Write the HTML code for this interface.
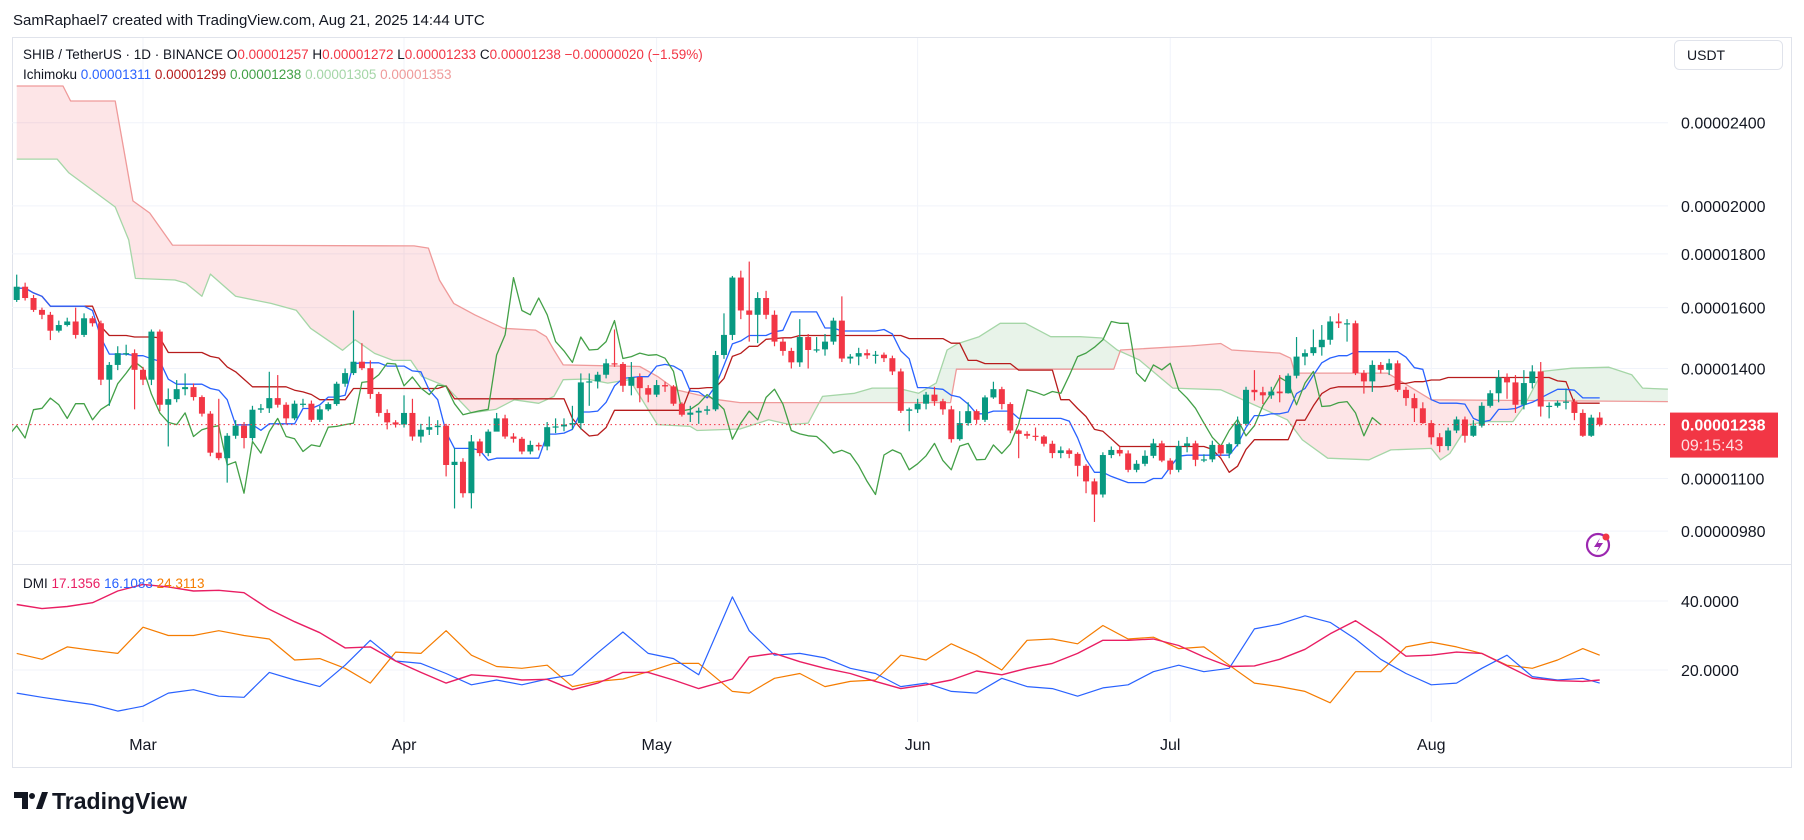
<!DOCTYPE html>
<html><head><meta charset="utf-8"><title>SHIB/USDT Ichimoku DMI</title>
<style>
html,body{margin:0;padding:0;background:#fff;}
svg{display:block;font-family:"Liberation Sans",sans-serif;}
</style></head>
<body>
<svg id="chart" xmlns="http://www.w3.org/2000/svg" width="1804" height="840" viewBox="0 0 1804 840">
<rect x="0" y="0" width="1804" height="840" fill="#ffffff"/>
<text x="13" y="25" font-size="15" fill="#131722">SamRaphael7 created with TradingView.com, Aug 21, 2025 14:44 UTC</text>
<rect x="12.5" y="37.5" width="1779" height="730" fill="none" stroke="#e0e3eb"/>
<line x1="12" y1="564.5" x2="1791" y2="564.5" stroke="#e0e3eb"/>
<g id="grid"></g>
<g id="cloud"></g>
<g id="lines"></g>
<g id="candles"></g>
<g id="dmi"></g>
<g id="axes"></g>
<text x="23" y="59" font-size="13.5" fill="#131722">SHIB / TetherUS · 1D · BINANCE  O<tspan fill="#f23645">0.00001257</tspan>  H<tspan fill="#f23645">0.00001272</tspan>  L<tspan fill="#f23645">0.00001233</tspan>  C<tspan fill="#f23645">0.00001238</tspan>  <tspan fill="#f23645">−0.00000020 (−1.59%)</tspan></text>
<text x="23" y="79" font-size="13.5" fill="#131722">Ichimoku  <tspan fill="#2962ff">0.00001311</tspan>  <tspan fill="#b71c1c">0.00001299</tspan>  <tspan fill="#43a047">0.00001238</tspan>  <tspan fill="#a5d6a7">0.00001305</tspan>  <tspan fill="#ef9a9a">0.00001353</tspan></text>
<text x="23" y="588" font-size="13.5" fill="#131722">DMI  <tspan fill="#e91e63">17.1356</tspan>  <tspan fill="#2962ff">16.1083</tspan>  <tspan fill="#f57c00">24.3113</tspan></text>
<rect x="1674.5" y="40.5" width="108" height="29" rx="5" fill="#fff" stroke="#e0e3eb"/>
<text x="1687" y="60" font-size="14" fill="#131722">USDT</text>
<g>
<circle cx="1598" cy="545" r="11" fill="none" stroke="#9c27b0" stroke-width="2.2"/>
<path d="M1600 538 L1594 547 L1599 547 L1596 553 L1603 543 L1598 543 Z" fill="#9c27b0"/>
<circle cx="1606" cy="537" r="3.5" fill="#f23645"/>
</g>
<g>
<path d="M14 792 h14 v17 h-6 v-11 h-8 z" fill="#131722"/>
<circle cx="32" cy="796" r="3" fill="#131722"/>
<path d="M36 809 l6 -17 h6 l-6 17 z" fill="#131722"/>
<text x="52" y="809" font-size="23" font-weight="bold" fill="#131722">TradingView</text>
</g>
</svg>
<script>
// ---- data (prices in units of 1e-8 USDT) ----
const firstOpen = 1627;
const closes = [1675,1634,1592,1575,1521,1540,1552,1507,1563,1546,
1366,1411,1448,1448,1396,1366,1518,1293,1309,1338,
1344,1315,1268,1164,1150,1208,1235,1202,1279,1283,
1312,1293,1255,1296,1296,1251,1280,1295,1354,1386,
1421,1401,1324,1270,1244,1238,1270,1206,1224,1231,
1235,1133,1141,1065,1193,1163,1219,1255,1206,1200,
1167,1184,1180,1231,1233,1238,1242,1358,1361,1381,
1416,1414,1348,1374,1341,1322,1350,1346,1296,1265,
1271,1276,1280,1442,1507,1709,1590,1575,1634,1575,
1485,1455,1419,1500,1458,1460,1485,1555,1431,1437,
1448,1441,1443,1432,1391,1276,1280,1296,1322,1303,
1280,1199,1242,1275,1251,1314,1338,1295,1222,1213,
1208,1206,1187,1163,1170,1161,1131,1093,1062,1158,
1171,1162,1121,1136,1156,1188,1144,1121,1181,1188,
1146,1147,1184,1162,1186,1240,1336,1329,1320,1331,
1326,1378,1437,1448,1467,1491,1552,1546,1546,1386,
1361,1411,1396,1416,1336,1312,1283,1242,1204,1181,
1222,1252,1208,1235,1290,1326,1373,1358,1293,1356,
1391,1288,1290,1299,1302,1270,1208,1257,1238];
const highs = [1720,1690,1645,1600,1585,1555,1565,1600,1580,1570,
1555,1420,1470,1475,1460,1405,1525,1525,1340,1365,
1385,1355,1320,1275,1310,1215,1250,1245,1290,1295,
1390,1380,1300,1305,1310,1305,1290,1300,1360,1400,
1590,1480,1425,1330,1280,1250,1320,1310,1240,1260,
1250,1240,1175,1150,1210,1200,1225,1270,1265,1215,
1205,1195,1190,1245,1255,1255,1290,1385,1385,1390,
1430,1525,1420,1420,1385,1350,1365,1360,1350,1300,
1290,1285,1290,1455,1580,1715,1735,1770,1655,1660,
1590,1500,1465,1560,1510,1500,1510,1565,1640,1445,
1465,1460,1455,1450,1440,1400,1285,1310,1330,1345,
1310,1290,1275,1300,1280,1320,1360,1345,1300,1225,
1220,1230,1210,1195,1180,1175,1165,1135,1100,1165,
1180,1180,1170,1145,1170,1200,1195,1150,1195,1205,
1195,1160,1195,1175,1190,1260,1345,1395,1345,1345,
1380,1385,1500,1460,1525,1540,1570,1580,1560,1555,
1395,1425,1420,1430,1425,1345,1325,1300,1250,1215,
1230,1260,1260,1250,1300,1335,1395,1385,1380,1395,
1410,1420,1300,1305,1340,1310,1280,1265,1272];
const lows = [1620,1625,1585,1560,1490,1515,1535,1495,1500,1535,
1350,1290,1395,1440,1280,1350,1350,1275,1180,1300,
1320,1305,1260,1155,1145,1090,1200,1175,1195,1270,
1270,1285,1240,1250,1285,1245,1245,1275,1290,1345,
1380,1395,1310,1260,1225,1230,1230,1195,1190,1210,
1210,1105,1030,1055,1030,1155,1155,1245,1200,1190,
1160,1160,1170,1170,1215,1220,1225,1225,1290,1340,
1370,1405,1330,1320,1300,1300,1315,1330,1290,1260,
1245,1240,1265,1275,1430,1490,1560,1485,1480,1560,
1470,1440,1400,1405,1400,1450,1440,1475,1420,1415,
1410,1430,1415,1420,1380,1270,1220,1270,1280,1290,
1265,1190,1195,1235,1240,1245,1310,1280,1215,1150,
1200,1195,1180,1150,1150,1150,1105,1065,1000,1055,
1150,1155,1115,1115,1130,1150,1140,1110,1115,1165,
1130,1140,1140,1155,1150,1180,1235,1305,1295,1310,
1300,1325,1370,1410,1440,1440,1475,1530,1485,1380,
1325,1330,1385,1380,1330,1290,1245,1240,1185,1165,
1170,1215,1190,1205,1230,1285,1300,1310,1270,1280,
1340,1260,1255,1285,1280,1250,1205,1205,1233];
// Ichimoku cloud edges (bar index, price)
const spanAIdx = [0,4.8,6.2,11.7,13.3,14.1,18.8,20.1,22,23,26,30.2,33.2,34.9,38.7,40.2,42.5,44.7,46.8,48.1,51,54,56.9,59.1,62,63.8,64.9,67.7,70.2,72.8,76.1,80,80.8,85.9,89.3,91.8,94,95.7,99.5,101.6,104.6,107.1,109.2,110.5,111.8,114.3,116.8,119.8,122.8,126.3,128.9,130.7,133.3,137.3,143,145.2,150.9,152.7,155.7,160.6,163.2,168,169.1,170.2,172.4,174.6,177.7,179,181.2,184.7,189.1,191.8,193.1,196.1];
const spanA = [2216,2216,2150,1995,1856,1706,1700,1688,1640,1722,1640,1615,1591,1529,1457,1491,1447,1425,1425,1376,1346,1270,1280,1307,1297,1317,1366,1368,1356,1366,1238,1233,1222,1226,1251,1238,1242,1317,1326,1341,1341,1326,1356,1458,1479,1501,1546,1546,1501,1501,1497,1458,1427,1341,1336,1312,1251,1197,1150,1146,1171,1175,1146,1162,1238,1246,1246,1288,1391,1401,1404,1381,1341,1338];
const spanBIdx = [0,5.5,6.4,11.7,13.8,15.8,18.5,47.2,48.9,50.2,51.9,54.4,57.8,61.6,62.9,63.8,64.9,74,76.1,78.3,83.4,85.9,110.9,111.6,130.3,131.1,139.5,143,144.3,150,151.3,151.8,162.8,168,196.1];
const spanB = [2601,2601,2517,2517,2022,1969,1835,1832,1823,1700,1615,1575,1529,1523,1501,1458,1411,1406,1376,1336,1307,1299,1299,1398,1398,1458,1471,1479,1458,1448,1432,1386,1386,1307,1302];
// DMI (sampled vertices)
const dmiIdx = [0,3,6,9,12,15,18,21,24,27,30,33,36,39,42,45,48,51,54,57,60,63,66,69,72,75,78,81,85,87,90,93,96,
99,102,105,108,111,114,117,120,123,126,129,132,135,138,141,144,147,150,153,156,159,162,165,168,171,174,177,180,183,186,188];
const adx = [39.0,37.8,38.4,39.5,42.9,44.8,44.1,42.9,43.1,42.4,37.6,34.0,30.8,26.4,26.7,22.6,19.3,16.2,18.6,18.1,17.1,17.3,14.3,16.2,19.3,19.3,17.1,14.6,17.4,23.8,24.8,22.4,20.5,
19.0,16.7,14.6,15.7,17.1,19.7,18.6,20.5,21.9,24.8,28.6,28.6,29.0,27.1,23.8,21.0,21.2,23.1,26.0,30.5,34.3,29.5,24.0,24.3,25.2,24.8,21.2,17.6,16.9,16.7,17.1];
const plusDI = [13.3,12.1,11.0,10.0,8.1,9.5,13.3,14.3,12.4,12.1,19.3,17.1,15.2,21.4,28.6,22.6,21.9,19.0,15.7,17.1,15.7,17.4,18.6,25.0,31.0,24.8,23.3,18.6,41.2,31.4,24.3,24.8,23.5,
20.5,19.0,15.2,16.2,13.8,13.3,17.6,15.2,14.6,12.4,14.8,15.7,19.5,21.4,19.5,20.5,31.9,33.3,35.7,33.8,29.0,23.1,19.0,15.7,16.2,20.5,24.3,18.1,17.1,17.6,16.2];
const minusDI = [24.8,23.1,26.7,25.7,24.8,32.4,30.0,30.0,31.4,30.0,29.0,22.9,23.3,20.5,16.2,25.2,24.8,31.4,24.3,21.0,20.5,21.4,15.2,16.7,17.4,19.5,21.9,21.9,13.8,13.3,17.6,19.0,15.2,
16.7,17.1,24.3,22.9,27.6,24.3,20.0,28.6,29.0,27.6,32.9,29.0,29.5,26.2,26.7,21.4,16.2,15.2,13.8,10.5,19.5,19.5,26.7,28.1,26.7,24.8,21.4,20.5,22.9,26.2,24.3];
const priceTicks = [2400,2000,1800,1600,1400,1100,980];
const dmiTicks = [40,20];
const monthLabels = ['Mar','Apr','May','Jun','Jul','Aug'];
const monthIdx = [15,46,76,107,137,168];
const lastPrice = 1238;

// ---- scales ----
const NS='http://www.w3.org/2000/svg';
function xS(i){return 143+8.42*(i-15);}
function yP(p){return 368.5-456*Math.log(p/1400);}
function yD(v){return 670-(v-20)*3.45;}
function fmt(p){return '0.0000'+String(Math.round(p)).padStart(4,'0');}
function mk(tag,attrs,parent){const e=document.createElementNS(NS,tag);for(const k in attrs)e.setAttribute(k,attrs[k]);parent.appendChild(e);return e;}
const svg=document.getElementById('chart');
const defs=mk('defs',{},svg);
const cp=mk('clipPath',{id:'mainclip'},defs);mk('rect',{x:12,y:38,width:1656,height:526},cp);
const cp2=mk('clipPath',{id:'dmiclip'},defs);mk('rect',{x:12,y:565,width:1656,height:157},cp2);
const G=id=>document.getElementById(id);
G('cloud').setAttribute('clip-path','url(#mainclip)');
G('lines').setAttribute('clip-path','url(#mainclip)');
G('dmi').setAttribute('clip-path','url(#dmiclip)');

// grid
priceTicks.forEach(p=>{const l=mk('line',{x1:12,x2:1668,y1:yP(p),y2:yP(p),stroke:'#f0f3fa'},G('grid'));


const t=mk('text',{x:1681,y:yP(p)+6,'font-size':16,fill:'#131722'},G('axes'));t.textContent=fmt(p);

});
dmiTicks.forEach(v=>{const l=mk('line',{x1:12,x2:1668,y1:yD(v),y2:yD(v),stroke:'#f0f3fa'},G('grid'));


const t=mk('text',{x:1681,y:yD(v)+6,'font-size':16,fill:'#131722'},G('axes'));t.textContent=v.toFixed(4);

});
monthIdx.forEach((m,k)=>{const x=xS(m);const l=mk('line',{x1:x,x2:x,y1:38,y2:722,stroke:'#f0f3fa'},G('grid'));


const t=mk('text',{x:x,y:750,'font-size':16,fill:'#131722','text-anchor':'middle'},G('axes'));t.textContent=monthLabels[k];

});

// cloud: contiguous runs of same colour as single polygons
function interp(ix,vals,t){if(t<=ix[0])return vals[0];for(let k=1;k<ix.length;k++){if(t<=ix[k]){const f=(t-ix[k-1])/(ix[k]-ix[k-1]);return vals[k-1]+f*(vals[k]-vals[k-1]);}}return vals[vals.length-1];}
const endI=196.1;
const ts=[];for(let t=0;t<endI;t+=0.25)ts.push(t);ts.push(endI);
let run=[];let runGreen=null;
function flush(){if(run.length<2)return;
const top=run.map(t=>xS(t).toFixed(1)+','+yP(interp(spanAIdx,spanA,t)).toFixed(1));
const bot=run.slice().reverse().map(t=>xS(t).toFixed(1)+','+yP(interp(spanBIdx,spanB,t)).toFixed(1));
const pg=mk('polygon',{points:top.concat(bot).join(' '),fill:runGreen?'rgba(67,160,71,0.12)':'rgba(242,54,69,0.13)'},G('cloud'));

}
ts.forEach(t=>{const g=interp(spanAIdx,spanA,t)>=interp(spanBIdx,spanB,t);
if(runGreen===null)runGreen=g;
if(g!==runGreen){run.push(t);flush();run=[run[run.length-1]];runGreen=g;}else run.push(t);});
flush();
function poly(ix,vals,sx,sy,color,name,parent,w){const pts=ix.map((t,k)=>sx(t).toFixed(1)+','+sy(vals[k]).toFixed(1)).join(' ');
const pl=mk('polyline',{points:pts,fill:'none',stroke:color,'stroke-width':w||1.3,'stroke-linejoin':'round'},parent);

}
poly(spanAIdx,spanA,xS,yP,'#a5d6a7','senkou-span-a',G('cloud'));
poly(spanBIdx,spanB,xS,yP,'#ef9a9a','senkou-span-b',G('cloud'));

// ichimoku lines from OHLC
const N=closes.length;const idxAll=[...Array(N).keys()];
function mid(i,n){let h=-1e9,l=1e9;for(let k=Math.max(0,i-n+1);k<=i;k++){h=Math.max(h,highs[k]);l=Math.min(l,lows[k]);}return (h+l)/2;}
const tenkan=idxAll.map(i=>mid(i,9));const kijun=idxAll.map(i=>mid(i,26));
poly(idxAll,kijun,xS,yP,'#b71c1c','kijun-line',G('lines'));
poly(idxAll,tenkan,xS,yP,'#2962ff','tenkan-line',G('lines'));
poly(idxAll.map(i=>i-26),closes,xS,yP,'#43a047','chikou-line',G('lines'));

// candles
for(let i=0;i<N;i++){const o=i?closes[i-1]:firstOpen,c=closes[i];const col=c>=o?'#089981':'#f23645';const x=xS(i);
const g=mk('g',{},G('candles'));


mk('line',{x1:x,x2:x,y1:yP(highs[i]),y2:yP(lows[i]),stroke:col,'stroke-width':1.2},g);
const top=yP(Math.max(o,c)),bot=yP(Math.min(o,c));
mk('rect',{x:x-3,y:top,width:6,height:Math.max(1.2,bot-top),fill:col},g);}

// last price
const lp=mk('line',{x1:12,x2:1668,y1:yP(lastPrice),y2:yP(lastPrice),stroke:'#f23645','stroke-dasharray':'1.5 3','stroke-width':1},G('axes'));


const lb=mk('rect',{x:1670,y:yP(lastPrice)-12,width:108,height:45,fill:'#f23645'},G('axes'));


const lt=mk('text',{x:1681,y:yP(lastPrice)+6,'font-size':16,fill:'#fff','font-weight':'bold'},G('axes'));lt.textContent=fmt(lastPrice);


const ct=mk('text',{x:1681,y:yP(lastPrice)+26,'font-size':16,fill:'#fde0e2'},G('axes'));ct.textContent='09:15:43';



// DMI
poly(dmiIdx,minusDI,xS,yD,'#f57c00','minus-di-line',G('dmi'),1.2);
poly(dmiIdx,plusDI,xS,yD,'#2962ff','plus-di-line',G('dmi'),1.2);
poly(dmiIdx,adx,xS,yD,'#e91e63','adx-line',G('dmi'),1.4);
</script>
</body></html>
